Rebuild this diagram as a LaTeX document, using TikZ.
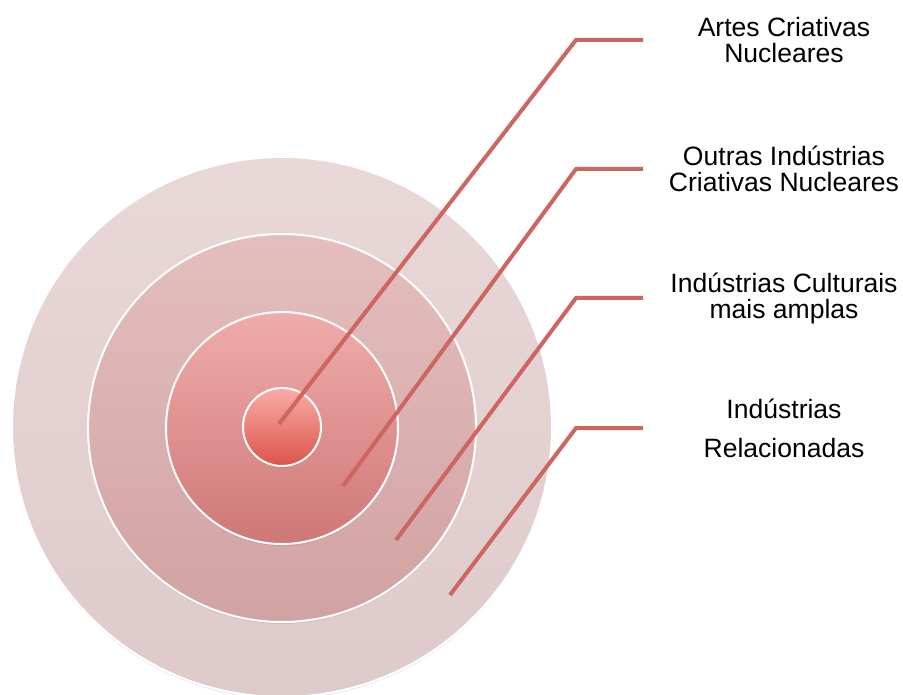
\documentclass[tikz,border=0pt]{standalone}
\usepackage{fontspec}
\setmainfont{Liberation Sans}
\usetikzlibrary{shadows}

\definecolor{leadred}{RGB}{205,102,96}
\definecolor{outtop}{RGB}{233,216,216}
\definecolor{outbot}{RGB}{222,202,202}
\definecolor{midtop}{RGB}{228,190,190}
\definecolor{midbot}{RGB}{209,162,162}
\definecolor{inntop}{RGB}{239,172,170}
\definecolor{innbot}{RGB}{207,120,118}
\definecolor{cortop}{RGB}{249,172,167}
\definecolor{corbot}{RGB}{219,84,74}

\begin{document}
\begin{tikzpicture}[
  x=0.75pt, y=-0.75pt,
  font=\fontsize{19.9}{19.5}\selectfont,
  ring/.style={circle, draw=white, line width=1.5pt, inner sep=0pt,
    drop shadow={opacity=0.18, shadow xshift=0pt, shadow yshift=-1.5pt}},
  lead/.style={draw=leadred, line width=3pt},
  lbl/.style={align=center, inner sep=0pt}
]
\useasboundingbox (0,0) rectangle (903,695);

% rings, outside in
\node[ring, minimum size=405pt, top color=outtop, bottom color=outbot] (rel) at (282,427) {};
\node[ring, minimum size=291pt, top color=midtop, bottom color=midbot] (cult) at (282,428) {};
\node[ring, minimum size=174pt, top color=inntop, bottom color=innbot] (ind) at (282,428) {};
\node[ring, minimum size=58.5pt, top color=cortop, bottom color=corbot] (core) at (282,427) {};

% leader lines
\coordinate (p1) at (279,424); \coordinate (k1) at (576,40);  \coordinate (e1) at (643,40);
\coordinate (p2) at (343,486); \coordinate (k2) at (576,169); \coordinate (e2) at (643,169);
\coordinate (p3) at (396,540); \coordinate (k3) at (576,298); \coordinate (e3) at (643,298);
\coordinate (p4) at (450,595); \coordinate (k4) at (576,428); \coordinate (e4) at (643,428);
\draw[lead] (p1) -- (k1) -- (e1);
\draw[lead] (p2) -- (k2) -- (e2);
\draw[lead] (p3) -- (k3) -- (e3);
\draw[lead] (p4) -- (k4) -- (e4);

% labels
\node[lbl] (t1) at (784,40)  {Artes Criativas\\Nucleares};
\node[lbl] (t2) at (784,169) {Outras Indústrias\\Criativas Nucleares};
\node[lbl] (t3) at (784,298) {Indústrias Culturais\\mais amplas};
\node[lbl] (t4) at (784,428) {Indústrias\\[9.75pt]Relacionadas};

\end{tikzpicture}
\end{document}
